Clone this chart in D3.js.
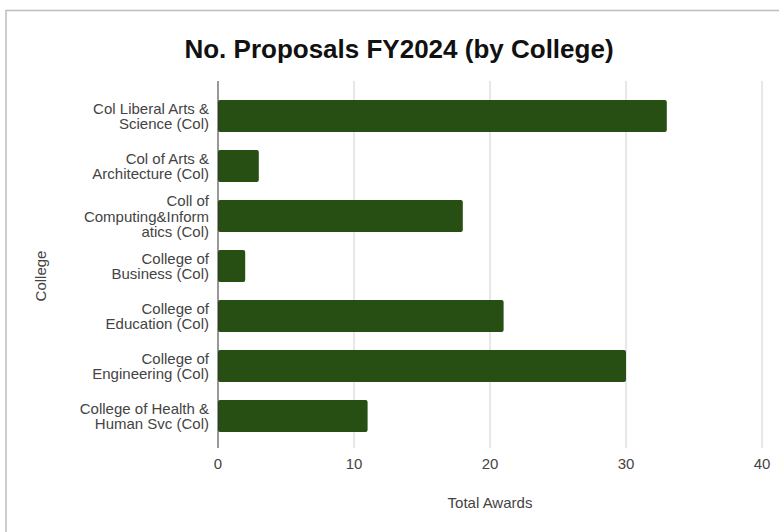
<!DOCTYPE html>
<html>
<head>
<meta charset="utf-8">
<script src="https://cdn.jsdelivr.net/npm/d3@7"></script>
<style>
  html,body{margin:0;padding:0;background:#fff;}
  svg{display:block;font-family:Arial,"Liberation Sans","DejaVu Sans",sans-serif;}
</style>
</head>
<body>
<svg id="chart" width="779" height="532"></svg>
<script>
// ---- data ----
const colleges = [
  'Col Liberal Arts &\nScience (Col)',
  'Col of Arts &\nArchitecture (Col)',
  'Coll of\nComputing&Inform\natics (Col)',
  'College of\nBusiness (Col)',
  'College of\nEducation (Col)',
  'College of\nEngineering (Col)',
  'College of Health &\nHuman Svc (Col)'
];
const proposals = [33, 3, 18, 2, 21, 30, 11];
const xTicks = [0, 10, 20, 30, 40];

(function(){
  const svg = d3.select('#chart');
  const W = 779, H = 532;
  const left = 218, right = 762, top = 81, bottom = 448;

  // frame (only top + left edges fall inside the picture)
  svg.append('path').attr('d', `M6,${H} V10.5 H${W}`)
    .attr('fill','none').attr('stroke','#bdbdbd').attr('stroke-width',1.5);

  svg.append('text').attr('x', 399).attr('y', 58).attr('text-anchor','middle')
    .attr('font-size', 26).attr('font-weight','bold').attr('fill','#111')
    .text('No. Proposals FY2024 (by College)');

  const x = d3.scaleLinear().domain([0, 40]).range([left, right]);
  const y = d3.scaleBand().domain(colleges).range([91, 441]).paddingInner(0.36).paddingOuter(0.18);

  // gridlines
  svg.append('g').selectAll('line').data(xTicks.filter(t => t > 0)).join('line')
    .attr('x1', d => x(d)).attr('x2', d => x(d)).attr('y1', top).attr('y2', bottom)
    .attr('stroke','#d0d0d0').attr('stroke-width',1);

  // bars
  svg.append('g').selectAll('rect').data(proposals).join('rect')
    .attr('x', x(0)).attr('y', (d,i) => y(colleges[i]))
    .attr('width', d => x(d) - x(0)).attr('height', y.bandwidth())
    .attr('rx', 2).attr('fill','#274e13');

  // zero axis line
  svg.append('line').attr('x1', x(0)).attr('x2', x(0)).attr('y1', top).attr('y2', bottom)
    .attr('stroke','#333').attr('stroke-width',1);

  // x tick labels
  svg.append('g').selectAll('text').data(xTicks).join('text')
    .attr('x', d => x(d)).attr('y', 469).attr('text-anchor','middle')
    .attr('font-size', 15).attr('fill','#444').text(d => d);

  // category labels
  const lh = 15.7;
  const lab = svg.append('g').selectAll('text').data(colleges).join('text')
    .attr('x', 209).attr('text-anchor','end').attr('font-size', 15).attr('fill','#444');
  lab.each(function(d){
    const lines = d.split('\n');
    const cy = y(d) + y.bandwidth()/2;
    const t = d3.select(this);
    lines.forEach((s, i) => {
      t.append('tspan').attr('x', 209)
        .attr('y', cy + (i - (lines.length-1)/2)*lh + 5.5).text(s);
    });
  });

  // axis titles
  svg.append('text').attr('x', (left+right)/2).attr('y', 508).attr('text-anchor','middle')
    .attr('font-size', 15).attr('fill','#444').text('Total Awards');
  svg.append('text').attr('transform','translate(46,276) rotate(-90)').attr('text-anchor','middle')
    .attr('font-size', 15).attr('fill','#444').text('College');
})();
</script>
</body>
</html>
